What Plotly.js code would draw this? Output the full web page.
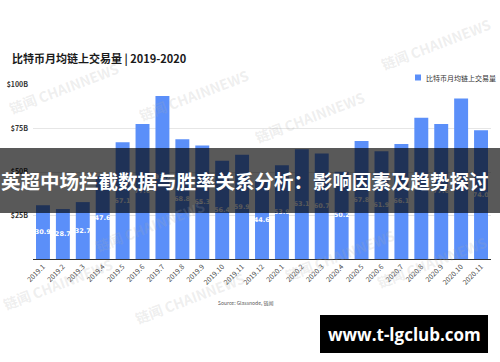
<!DOCTYPE html>
<html>
<head>
<meta charset="utf-8">
<script src="https://cdn.plot.ly/plotly-3.0.1.min.js"></script>
<style>
html,body{margin:0;padding:0;background:#fff;}
#chart{width:500px;height:362px;}
</style>
</head>
<body>
<div id="chart"></div>
<script>
// ---- data ----
const months = ["2019.1","2019.2","2019.3","2019.4","2019.5","2019.6","2019.7","2019.8","2019.9","2019.10","2019.11","2019.12",
                "2020.1","2020.2","2020.3","2020.4","2020.5","2020.6","2020.7","2020.8","2020.9","2020.10","2020.11"];
const volumes = [30.9,28.7,32.7,47.6,67.1,77.6,93.7,68.8,65.3,56.4,59.9,44.6,
                 53.9,63.1,60.7,50.2,67.8,61.9,66.1,81.2,77.6,92.3,74.0];
const yTickVals = [25,50,75,100];
const yTickText = ["$25B","$50B","$75B","$100B"];
const seriesName = "比特币月均链上交易量";
const chartTitle = "比特币月均链上交易量 | 2019-2020";
const bannerText = "英超中场拦截数据与胜率关系分析：影响因素及趋势探讨";
const sourceText = "Source: Glassnode, 链闻";
const siteText = "www.t-lgclub.com";
const watermarkText = "链闻 CHAINNEWS";

// ---- layout geometry (pixels) ----
const W = 500, H = 362;
const L = 33, R = 9, T = 85, B = 103;
const PW = W - L - R, PH = H - T - B;
const px = x => (x - L) / PW;
const py = y => (H - B - y) / PH;

const CJK = '"Noto Sans CJK SC", "Noto Sans", sans-serif';
const barColor = "#5B8FF9";

const trace = {
  type: "bar",
  x: months,
  y: volumes,
  name: seriesName,
  marker: {color: barColor},
  text: volumes.map(v => v.toFixed(1)),
  textposition: "inside",
  insidetextanchor: "middle",
  textangle: 0,
  constraintext: "none",
  textfont: {family: '"DejaVu Sans", sans-serif', size: 6.5, color: "#ffffff", weight: "bold"},
  hoverinfo: "x+y",
  showlegend: false
};

const watermarks = [
  [64, 88], [194, 95], [310, 117], [436, 44], [150, 226],
  [340, 255], [432, 262], [58, 284], [190, 298]
];

const annotations = [
  {text: chartTitle, x: px(10), y: py(58), xref: "paper", yref: "paper", xanchor: "left", yanchor: "middle",
   showarrow: false, font: {family: CJK, size: 11, color: "#1a1a1a", weight: "bold"}},
  {text: seriesName, x: px(424), y: py(77.5), xref: "paper", yref: "paper", xanchor: "left", yanchor: "middle",
   showarrow: false, font: {family: CJK, size: 7, color: "#333333"}},
  {text: sourceText, x: px(245), y: py(303), xref: "paper", yref: "paper", xanchor: "center", yanchor: "middle",
   showarrow: false, font: {family: CJK, size: 5, color: "#555555"}}
];
watermarks.forEach(([x, y]) => annotations.push({
  text: watermarkText, x: px(x), y: py(y), xref: "paper", yref: "paper", xanchor: "center", yanchor: "middle",
  showarrow: false, textangle: -21, font: {family: CJK, size: 14, color: "rgba(170,170,170,0.2)", weight: "bold"}
}));
annotations.push(
  {text: bannerText, x: px(245), y: py(180.5), xref: "paper", yref: "paper", xanchor: "center", yanchor: "middle",
   showarrow: false, font: {family: CJK, size: 19.5, color: "#ffffff", weight: "bold"}},
  {text: siteText, x: px(404), y: py(334), xref: "paper", yref: "paper", xanchor: "center", yanchor: "middle",
   showarrow: false, font: {family: '"Open Sans", "DejaVu Sans", sans-serif', size: 17, color: "#ffffff", weight: "bold"}}
);

const shapes = [
  {type: "rect", xref: "paper", yref: "paper", x0: px(415), x1: px(421), y0: py(80.5), y1: py(74.5),
   fillcolor: barColor, line: {width: 0}},
  {type: "rect", xref: "paper", yref: "paper", x0: px(-2), x1: px(502), y0: py(213), y1: py(148),
   fillcolor: "rgba(0,0,0,0.65)", line: {width: 0}, layer: "above"},
  {type: "rect", xref: "paper", yref: "paper", x0: px(320), x1: px(488), y0: py(353), y1: py(315),
   fillcolor: "#000000", line: {width: 0}, layer: "above"}
];

const layout = {
  width: W, height: H,
  margin: {l: L, r: R, t: T, b: B, pad: 0},
  paper_bgcolor: "#ffffff", plot_bgcolor: "#ffffff",
  bargap: 0.3,
  showlegend: false,
  xaxis: {
    type: "category", tickangle: -45, showgrid: false, zeroline: false,
    showline: true, linecolor: "#333333", linewidth: 1, ticks: "",
    tickfont: {family: CJK, size: 7, color: "#444444"}
  },
  yaxis: {
    range: [0, 100], tickvals: yTickVals, ticktext: yTickText,
    showgrid: true, gridcolor: "#e6e6e6", gridwidth: 1, zeroline: false, showline: false,
    tickfont: {family: CJK, size: 7, color: "#333333", weight: "bold"}, ticks: "", ticklabelstandoff: 4
  },
  shapes: shapes,
  annotations: annotations
};

Plotly.newPlot("chart", [trace], layout, {displayModeBar: false, staticPlot: true});
</script>
</body>
</html>
